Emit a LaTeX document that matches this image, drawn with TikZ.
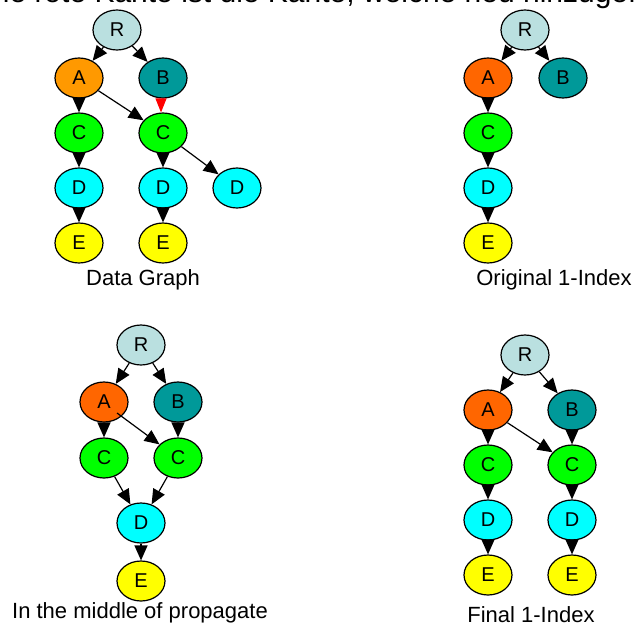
\documentclass[tikz,border=0pt]{standalone}
\usepackage{fontspec}
\setmainfont{Liberation Sans}
\usetikzlibrary{shapes.geometric,arrows.meta,calc}

\definecolor{rootcol}{RGB}{186,224,224}
\definecolor{acolorg}{RGB}{255,153,0}
\definecolor{acol}{RGB}{255,102,0}
\definecolor{bcol}{RGB}{0,153,153}
\definecolor{ccol}{RGB}{0,255,0}
\definecolor{dcol}{RGB}{0,255,255}
\definecolor{ecol}{RGB}{255,255,0}
\definecolor{newedge}{RGB}{255,0,0}

\tikzset{
  vtx/.style={ellipse, draw=black, line width=1.2pt, minimum width=48pt,
    minimum height=40pt, inner sep=0pt, font=\fontsize{20}{24}\selectfont},
  rv/.style={vtx, fill=rootcol},
  av/.style={vtx, fill=acol},
  bv/.style={vtx, fill=bcol},
  cv/.style={vtx, fill=ccol},
  dv/.style={vtx, fill=dcol},
  ev/.style={vtx, fill=ecol},
  arr/.style={-{Triangle[length=15pt,width=13pt]}, line width=1.2pt},
  newarr/.style={-{Triangle[length=14pt,width=11pt]}, line width=1pt, draw=newedge, fill=newedge},
  caption/.style={anchor=base, inner sep=0pt, font=\fontsize{22}{26}\selectfont},
}

\begin{document}
\begin{tikzpicture}[x=1pt, y=-1pt]
\useasboundingbox (0,0) rectangle (635,626);

% heading line, running off the top edge
\begin{scope}
  \clip (0,0) rectangle (635,626);
  \node[anchor=base west, inner sep=0pt, font=\fontsize{30}{36}\selectfont]
    (head) at (-19,3) {Die rote Kante ist die Kante, welche neu hinzugefügt wurde};
\end{scope}

% ---------------- data graph ----------------
\node[rv] (r1) at (117,30) {R};
\node[vtx, fill=acolorg] (a1) at (79,78) {A};
\node[bv] (b1) at (163,78) {B};
\node[cv] (c1a) at (79,133) {C};
\node[cv] (c1b) at (163,133) {C};
\node[dv] (d1a) at (79,188) {D};
\node[dv] (d1b) at (163,188) {D};
\node[dv] (d1c) at (237,188) {D};
\node[ev] (e1a) at (79,243) {E};
\node[ev] (e1b) at (163,243) {E};
\node[caption] (cap1) at (143,285) {Data Graph};

\draw[arr] (r1) -- (a1);
\draw[arr] (r1) -- (b1);
\draw[arr] (a1) -- (c1a);
\draw[arr] (a1) -- (c1b);
\draw[newarr] (b1.south) ++(-2,0) coordinate (b1s) -- (c1b.north -| b1s);
\draw[arr] (c1a) -- (d1a);
\draw[arr] (c1b) -- (d1b);
\draw[arr] (c1b) -- (d1c);
\draw[arr] (d1a) -- (e1a);
\draw[arr] (d1b) -- (e1b);

% ---------------- original 1-index ----------------
\node[rv] (r2) at (525,30) {R};
\node[av] (a2) at (488,78) {A};
\node[bv] (b2) at (563,78) {B};
\node[cv] (c2) at (488,133) {C};
\node[dv] (d2) at (488,188) {D};
\node[ev] (e2) at (488,243) {E};
\node[caption] (cap2) at (554,285) {Original 1-Index};

\draw[arr] (r2) -- (a2);
\draw[arr] (r2) -- (b2);
\draw[arr] (a2) -- (c2);
\draw[arr] (c2) -- (d2);
\draw[arr] (d2) -- (e2);

% ---------------- in the middle of propagate ----------------
\node[rv] (r3) at (141,345) {R};
\node[av] (a3) at (104,402) {A};
\node[bv] (b3) at (178,402) {B};
\node[cv] (c3a) at (104,458) {C};
\node[cv] (c3b) at (178,458) {C};
\node[dv] (d3) at (141,523) {D};
\node[ev] (e3) at (141,581) {E};
\node[caption] (cap3) at (140,618) {In the middle of propagate};

\draw[arr] (r3) -- (a3);
\draw[arr] (r3) -- (b3);
\draw[arr] (a3) -- (c3a);
\draw[arr] (b3) -- (c3b);
\draw[arr] ($(a3)+(13,11)$) coordinate (a3in) -- (c3b);
\draw[arr] (c3a) -- (d3);
\draw[arr] (c3b) -- (d3);
\draw[arr] (d3) -- (e3);

% ---------------- final 1-index ----------------
\node[rv] (r4) at (525,355) {R};
\node[av] (a4) at (488,410) {A};
\node[bv] (b4) at (572,410) {B};
\node[cv] (c4a) at (488,465) {C};
\node[cv] (c4b) at (572,465) {C};
\node[dv] (d4a) at (488,520) {D};
\node[dv] (d4b) at (572,520) {D};
\node[ev] (e4a) at (488,575) {E};
\node[ev] (e4b) at (572,575) {E};
\node[caption] (cap4) at (531,622) {Final 1-Index};

\draw[arr] (r4) -- (a4);
\draw[arr] (r4) -- (b4);
\draw[arr] (a4) -- (c4a);
\draw[arr] (a4) -- (c4b);
\draw[arr] (b4) -- (c4b);
\draw[arr] (c4a) -- (d4a);
\draw[arr] (c4b) -- (d4b);
\draw[arr] (d4a) -- (e4a);
\draw[arr] (d4b) -- (e4b);
\end{tikzpicture}
\end{document}
